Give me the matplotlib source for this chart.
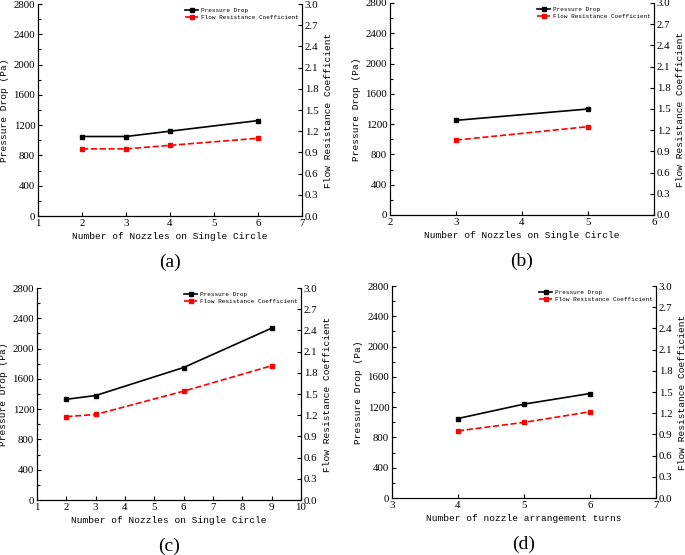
import matplotlib.pyplot as plt
from matplotlib.ticker import MultipleLocator, AutoMinorLocator

# panel data
x_a = [2, 3, 4, 6]
dp_a = [1050, 1050, 1120, 1260]
coef_a = [0.95, 0.95, 1.00, 1.10]

x_b = [3, 5]
dp_b = [1250, 1400]
coef_b = [1.06, 1.25]

x_c = [2, 3, 6, 9]
dp_c = [1330, 1380, 1750, 2270]
coef_c = [1.18, 1.21, 1.54, 1.90]

x_d = [4, 5, 6]
dp_d = [1050, 1240, 1380]
coef_d = [0.95, 1.07, 1.22]

xlabel_nozzles = 'Number of Nozzles on Single Circle'
xlabel_turns = 'Number of nozzle arrangement turns'

tick_font = 'Liberation Serif'
lab_font = 'Liberation Mono'


def panel(fig, rect, x, dp, coef, xlim, xlabel, tag):
    ax = fig.add_axes(rect)
    ax2 = ax.twinx()
    ax.plot(x, dp, '-s', color='black', lw=1.2, ms=3.5, label='Pressure Drop')
    ax2.plot(x, coef, '--s', color='red', lw=1.2, ms=3.5, label='Flow Resistance Coefficient')
    ax.set_xlim(*xlim)
    ax.set_ylim(0, 2800)
    ax2.set_ylim(0, 3.0)
    ax.xaxis.set_major_locator(MultipleLocator(1))
    ax.yaxis.set_major_locator(MultipleLocator(400))
    ax.yaxis.set_minor_locator(AutoMinorLocator(2))
    ax2.yaxis.set_major_locator(MultipleLocator(0.3))
    ax2.yaxis.set_major_formatter(plt.FuncFormatter(lambda v, p: '%.1f' % v))
    for a in (ax, ax2):
        a.spines['top'].set_visible(False)
        a.tick_params(direction='in', length=3, width=0.8, labelsize=7.8, pad=2)
        a.tick_params(which='minor', direction='in', length=2, width=0.8)
        for lbl in a.get_xticklabels() + a.get_yticklabels():
            lbl.set_family(tick_font)
    ax.set_xlabel(xlabel, family=lab_font, fontsize=6.8, labelpad=3)
    ax.set_ylabel('Pressure Drop (Pa)', family=lab_font, fontsize=6.8, labelpad=3)
    ax2.set_ylabel('Flow Resistance Coefficient', family=lab_font, fontsize=6.8,
                   labelpad=4)
    h1, l1 = ax.get_legend_handles_labels()
    h2, l2 = ax2.get_legend_handles_labels()
    ax2.legend(h1 + h2, l1 + l2, loc='upper right', frameon=False,
               prop={'family': lab_font, 'size': 4.3}, handlelength=2.2,
               borderaxespad=0.2, labelspacing=0.3, handletextpad=0.4)
    fig.text(rect[0] + rect[2] / 2, rect[1] - 0.084, tag, ha='center', va='center',
             family=tick_font, fontsize=14)
    return ax


fig = plt.figure(figsize=(6.85, 5.55), dpi=100)
w, h = 264 / 685, 212 / 555
panel(fig, [38 / 685, 339 / 555, w, h], x_a, dp_a, coef_a, (1, 7), xlabel_nozzles, '(a)')
panel(fig, [390 / 685, 340 / 555, w, h], x_b, dp_b, coef_b, (2, 6), xlabel_nozzles, '(b)')
panel(fig, [37 / 685, 55 / 555, w, h], x_c, dp_c, coef_c, (1, 10), xlabel_nozzles, '(c)')
panel(fig, [392 / 685, 57 / 555, w, h], x_d, dp_d, coef_d, (3, 7), xlabel_turns, '(d)')
fig.savefig('out.png', dpi=100)
